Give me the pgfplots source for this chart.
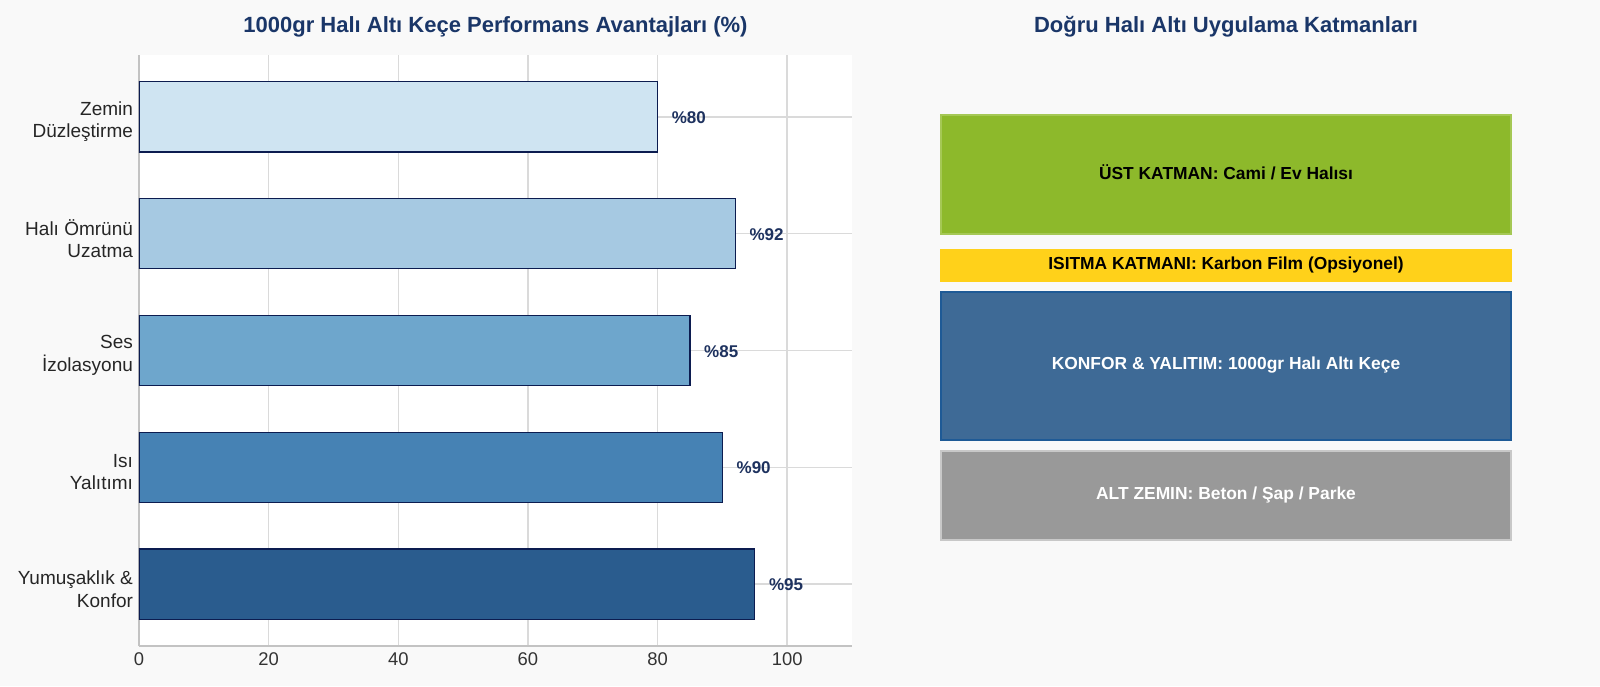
\documentclass[border=0pt]{standalone}
\usepackage{fontspec}
\setmainfont{Liberation Sans}
\usepackage{pgfplots}
\pgfplotsset{compat=1.18}
\definecolor{bgcol}{RGB}{249,249,249}
\definecolor{titlecol}{RGB}{26,54,104}
\definecolor{edgecol}{RGB}{12,28,80}
\definecolor{labcol}{RGB}{30,50,95}
\definecolor{gridcol}{RGB}{218,218,218}
\definecolor{axcol}{RGB}{195,195,195}
\definecolor{cA}{RGB}{207,228,242}
\definecolor{cB}{RGB}{166,201,226}
\definecolor{cC}{RGB}{110,166,204}
\definecolor{cD}{RGB}{70,130,180}
\definecolor{cE}{RGB}{42,92,142}
\definecolor{gGreen}{RGB}{141,185,43}
\definecolor{gGreenB}{RGB}{165,200,85}
\definecolor{gYellow}{RGB}{255,209,26}
\definecolor{gBlue}{RGB}{62,106,150}
\definecolor{gBlueB}{RGB}{30,90,150}
\definecolor{gGray}{RGB}{153,153,153}
\definecolor{gGrayB}{RGB}{200,200,200}
\begin{document}
\begin{tikzpicture}
\path[use as bounding box, fill=bgcol] (0,0) rectangle (800pt,343pt);
\begin{axis}[
  at={(69.5pt,20pt)}, anchor=south west,
  scale only axis, width=356.5pt, height=295.5pt,
  xbar, bar width=0.6, bar shift=0pt,
  xmin=0, xmax=110, ymin=-0.53, ymax=4.53,
  xtick={0,20,40,60,80,100},
  ytick={0,1,2,3,4},
  yticklabels={{Yumuşaklık \&\\Konfor},{Isı\\Yalıtımı},{Ses\\İzolasyonu},{Halı Ömrünü\\Uzatma},{Zemin\\Düzleştirme}},
  yticklabel style={align=right, font=\fontsize{9.5}{11.2}\selectfont, text=black!85, xshift=0.5pt, yshift=-2.5pt},
  xticklabel style={font=\fontsize{9.2}{11}\selectfont, text=black!80},
  /pgf/number format/assume math mode=true,
  major tick length=0pt,
  axis x line*=bottom, axis y line*=left,
  axis line style={axcol, line width=0.8pt},
  grid=major, grid style={gridcol, line width=0.7pt},
  axis background/.style={fill=white},
  every axis title shift=0pt,
  title={\bfseries 1000gr Halı Altı Keçe Performans Avantajları (\%)},
  title style={font=\fontsize{11}{13}\selectfont, text=titlecol, at={(0.5,1)}, anchor=center, yshift=14pt},
  nodes near coords={\%\pgfmathprintnumber{\pgfplotspointmeta}},
  point meta=x,
  nodes near coords style={anchor=west, xshift=3.5pt, yshift=-0.4pt, font=\bfseries\fontsize{8.5}{10}\selectfont, text=labcol},
  every axis plot/.append style={draw=edgecol, line width=0.6pt},
]
\addplot[fill=cE] coordinates {(95,0)};
\addplot[fill=cD] coordinates {(90,1)};
\addplot[fill=cC] coordinates {(85,2)};
\addplot[fill=cB] coordinates {(92,3)};
\addplot[fill=cA] coordinates {(80,4)};
\end{axis}
\begin{axis}[
  at={(0pt,0pt)}, anchor=south west,
  scale only axis, width=800pt, height=343pt,
  xmin=0, xmax=1600, ymin=0, ymax=686, y dir=reverse,
  hide axis, clip=false,
]
\addplot[fill=gGreen, draw=gGreenB, line width=0.6pt] coordinates {(941,115) (1511,115) (1511,234) (941,234)} -- cycle;
\addplot[fill=gYellow, draw=gYellow, line width=0.6pt] coordinates {(941,250) (1511,250) (1511,281) (941,281)} -- cycle;
\addplot[fill=gBlue, draw=gBlueB, line width=0.6pt] coordinates {(941,292) (1511,292) (1511,440) (941,440)} -- cycle;
\addplot[fill=gGray, draw=gGrayB, line width=0.6pt] coordinates {(941,451) (1511,451) (1511,540) (941,540)} -- cycle;
\node[font=\bfseries\fontsize{8.7}{10}\selectfont, text=black] at (axis cs:1226,172.5) {ÜST KATMAN: Cami / Ev Halısı};
\node[font=\bfseries\fontsize{8.7}{10}\selectfont, text=black] at (axis cs:1226,265) {ISITMA KATMANI: Karbon Film (Opsiyonel)};
\node[font=\bfseries\fontsize{8.7}{10}\selectfont, text=white] at (axis cs:1226,365) {KONFOR \& YALITIM: 1000gr Halı Altı Keçe};
\node[font=\bfseries\fontsize{8.7}{10}\selectfont, text=white] at (axis cs:1226,495) {ALT ZEMIN: Beton / Şap / Parke};
\node[font=\bfseries\fontsize{11}{13}\selectfont, text=titlecol] at (axis cs:1226,26.5) {Doğru Halı Altı Uygulama Katmanları};
\end{axis}
\end{tikzpicture}
\end{document}
